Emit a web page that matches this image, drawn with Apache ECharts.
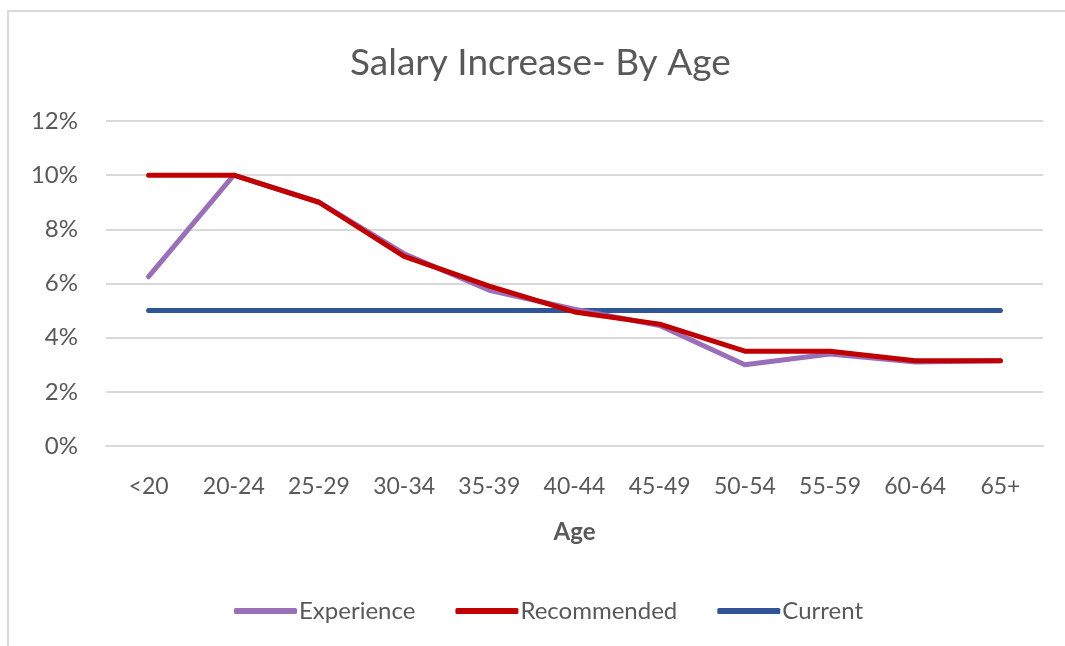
<!DOCTYPE html>
<html>
<head>
<meta charset="utf-8">
<script src="https://cdn.jsdelivr.net/npm/echarts@6/dist/echarts.min.js"></script>
<style>
  html, body { margin: 0; padding: 0; background: #fff; }
  #chart { width: 1065px; height: 646px; }
</style>
</head>
<body>
<div id="chart"></div>
<script>
// age groups
const ageGroups = ['<20', '20-24', '25-29', '30-34', '35-39', '40-44', '45-49', '50-54', '55-59', '60-64', '65+'];

// salary increase, in percent
const experience = [6.25, 10, 9, 7.1, 5.75, 5.05, 4.45, 3.0, 3.4, 3.1, 3.15];
const recommended = [10, 10, 9, 7, 5.9, 4.95, 4.5, 3.5, 3.5, 3.15, 3.15];
const current = [5, 5, 5, 5, 5, 5, 5, 5, 5, 5, 5];

const yTicks = [0, 2, 4, 6, 8, 10, 12];

const font = 'Lato, "Open Sans", sans-serif';
const grey = '#595959';

const chart = echarts.init(document.getElementById('chart'));

const lineSeries = (name, data, color, z) => ({
  name,
  type: 'line',
  data,
  symbol: 'none',
  z,
  lineStyle: { color, width: 5, cap: 'round', join: 'round' },
  itemStyle: { color }
});

chart.setOption({
  animation: false,
  textStyle: { fontFamily: font },
  title: {
    text: 'Salary Increase- By Age',
    left: 345,
    top: 40,
    textStyle: { fontFamily: font, fontSize: 37, fontWeight: 'normal', color: grey }
  },
  graphic: [
    {
      type: 'polyline',
      shape: { points: [[8, 646], [8, 11], [1065, 11]] },
      style: { stroke: '#d9d9d9', lineWidth: 2, fill: null },
      silent: true
    }
  ],
  legend: {
    data: ['Experience', 'Recommended', 'Current'],
    bottom: 18,
    left: 229,
    icon: 'roundRect',
    itemWidth: 63,
    itemHeight: 6,
    itemGap: 40,
    textStyle: { fontFamily: font, fontSize: 24, lineHeight: 24, color: grey, padding: [0, 0, 0, -3] }
  },
  grid: { left: 106, right: 22, top: 121, bottom: 200 },
  xAxis: {
    type: 'category',
    data: ageGroups,
    name: 'Age',
    nameLocation: 'middle',
    nameGap: 74,
    nameTextStyle: { fontFamily: font, fontSize: 24, fontWeight: 'bold', color: grey },
    axisLine: { lineStyle: { color: '#d9d9d9', width: 2 } },
    axisTick: { show: false },
    axisLabel: { fontFamily: font, fontSize: 23, color: grey, margin: 29, interval: 0 }
  },
  yAxis: {
    type: 'value',
    min: yTicks[0],
    max: yTicks[yTicks.length - 1],
    interval: 2,
    axisLine: { show: false },
    axisTick: { show: false },
    splitLine: { lineStyle: { color: '#d9d9d9', width: 2 } },
    axisLabel: { fontFamily: font, fontSize: 24, color: grey, margin: 28, formatter: v => v + '%' }
  },
  series: [
    lineSeries('Experience', experience, '#9b6fb8', 3),
    lineSeries('Recommended', recommended, '#c00000', 4),
    lineSeries('Current', current, '#2f5597', 2)
  ]
});
</script>
</body>
</html>
